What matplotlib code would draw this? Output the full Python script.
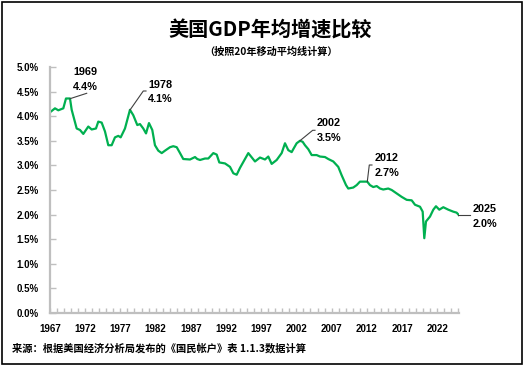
import matplotlib
matplotlib.use("Agg")
import matplotlib.pyplot as plt
from matplotlib.patches import Rectangle

# ---- data ----
years = [1967.00, 1967.71, 1968.18, 1968.89, 1969.27, 1969.84, 1970.08, 1970.79,
         1971.26, 1971.73, 1972.44, 1972.92, 1973.53, 1973.86, 1974.34, 1974.81,
         1975.28, 1975.76, 1976.23, 1976.70, 1977.04, 1977.65, 1978.36, 1978.83,
         1979.40, 1979.78, 1980.25, 1980.64, 1981.06, 1981.53, 1981.91, 1982.38,
         1982.87, 1983.34, 1984.05, 1984.51, 1985.00, 1985.47, 1985.93, 1986.89,
         1987.60, 1987.92, 1988.31, 1989.02, 1989.49, 1990.20, 1990.68, 1991.05,
         1991.86, 1992.57, 1993.04, 1993.52, 1993.99, 1995.17, 1996.12, 1996.83,
         1997.54, 1998.01, 1998.49, 1999.20, 1999.91, 2000.38, 2000.85, 2001.33,
         2001.56, 2002.04, 2002.51, 2002.89, 2003.22, 2003.69, 2004.17, 2004.88,
         2005.35, 2006.06, 2006.53, 2007.24, 2007.95, 2008.43, 2009.05, 2009.37,
         2010.08, 2010.57, 2011.03, 2011.50, 2012.07, 2012.45, 2012.92, 2013.41,
         2013.88, 2014.34, 2015.05, 2015.54, 2016.25, 2016.96, 2017.67, 2018.38,
         2018.85, 2019.56, 2019.94, 2020.17, 2020.41, 2020.98, 2021.45, 2021.83,
         2022.30, 2022.87, 2023.58, 2024.28, 2024.76, 2025.09]
growth = [4.08, 4.16, 4.12, 4.16, 4.36, 4.36, 4.13, 3.75,
          3.72, 3.64, 3.79, 3.73, 3.75, 3.89, 3.87, 3.69,
          3.41, 3.41, 3.57, 3.60, 3.57, 3.75, 4.13, 4.02,
          3.82, 3.84, 3.75, 3.65, 3.86, 3.72, 3.41, 3.30,
          3.25, 3.30, 3.37, 3.39, 3.37, 3.25, 3.13, 3.12,
          3.17, 3.13, 3.11, 3.14, 3.14, 3.25, 3.22, 3.06,
          3.04, 2.97, 2.84, 2.81, 2.95, 3.25, 3.08, 3.16,
          3.12, 3.18, 3.03, 3.11, 3.25, 3.45, 3.31, 3.27,
          3.33, 3.45, 3.50, 3.48, 3.41, 3.33, 3.21, 3.21,
          3.18, 3.17, 3.13, 3.08, 2.97, 2.80, 2.60, 2.53,
          2.55, 2.60, 2.67, 2.67, 2.67, 2.60, 2.56, 2.58,
          2.53, 2.51, 2.53, 2.50, 2.43, 2.36, 2.30, 2.29,
          2.20, 2.16, 2.06, 1.52, 1.86, 1.96, 2.10, 2.17,
          2.10, 2.15, 2.10, 2.06, 2.04, 1.99]

label_years = [1967, 1972, 1977, 1982, 1987, 1992, 1997, 2002, 2007, 2012, 2017, 2022]
y_ticks = [0.0, 0.5, 1.0, 1.5, 2.0, 2.5, 3.0, 3.5, 4.0, 4.5, 5.0]

# annotated peaks
ann_years = ["1969", "1978", "2002", "2012", "2025"]
ann_values = ["4.4%", "4.1%", "3.5%", "2.7%", "2.0%"]

title = "美国GDP年均增速比较"
subtitle = "（按照20年移动平均线计算）"
source = "来源：根据美国经济分析局发布的《国民帐户》表 1.1.3数据计算"

# ---- figure ----
W, H = 528, 367
fig = plt.figure(figsize=(W / 100, H / 100), dpi=100)
fig.patch.set_facecolor("white")

ax_l, ax_r, ax_t, ax_b = 50, 459, 67, 313
ax = fig.add_axes([ax_l / W, (H - ax_b) / H, (ax_r - ax_l) / W, (ax_b - ax_t) / H])
ax.set_facecolor("none")

ax.plot(years, growth, color="#00B050", lw=1.6, solid_joinstyle="round")

ax.set_xlim(1967, 2025.1)
ax.set_ylim(0, 5.0)

gray = "#BFBFBF"
for s in ["top", "right"]:
    ax.spines[s].set_visible(False)
for s in ["left", "bottom"]:
    ax.spines[s].set_color(gray)
    ax.spines[s].set_linewidth(1.6)

num_font = dict(family=["Liberation Sans", "DejaVu Sans"], weight="bold")

ax.set_yticks(y_ticks)
ax.set_yticklabels([f"{v:.1f}%" for v in y_ticks], fontsize=7, **num_font)
ax.tick_params(axis="y", direction="in", length=4, width=1, color=gray, pad=8)

ax.set_xticks(list(range(1967, 2026)))
ax.set_xticklabels([str(y) if y in label_years else "" for y in range(1967, 2026)],
                   fontsize=7, **num_font)
ax.tick_params(axis="x", direction="in", length=3.5, width=1, color=gray, pad=8)

# ---- annotations ----
def px2d(x, y):
    return 1967 + (x - 50) / 7.04, (313 - y) / 49.2

leaders = [
    [(70, 98.7), (86.7, 93.3)],
    [(130, 110), (143.3, 91), (146, 91)],
    [(300, 140.7), (312.7, 130.3), (315, 130.3)],
    [(367.3, 181.7), (369.3, 165), (372, 165)],
    [(458, 215), (470, 215)],
]
text_pos = [(73, 72, 87), (148, 85, 99.3), (317, 122.7, 138.3),
            (375, 158.3, 172.7), (473, 209.3, 224)]

for yl, vl, lead, tp in zip(ann_years, ann_values, leaders, text_pos):
    pts = [px2d(*p) for p in lead]
    ax.plot([p[0] for p in pts], [p[1] for p in pts], color="#404040", lw=0.8,
            clip_on=False)
    x0, y1 = px2d(tp[0], tp[1])
    _, y2 = px2d(tp[0], tp[2])
    ax.text(x0, y1, yl, ha="left", va="center", fontsize=7.8, clip_on=False, **num_font)
    ax.text(x0, y2, vl, ha="left", va="center", fontsize=7.8, clip_on=False, **num_font)

cjk = ["Noto Sans CJK SC", "DejaVu Sans"]
fig.text(270 / W, 1 - 30 / H, title, ha="center", va="center", fontsize=14.5,
         family=cjk, weight="bold")
fig.text(271 / W, 1 - 52 / H, subtitle, ha="center", va="center", fontsize=7.3,
         family=cjk, weight="bold")
fig.text(12 / W, 1 - 348 / H, source, ha="left", va="center", fontsize=7.4,
         family=cjk, weight="bold")

# outer frame
fig.patches.append(Rectangle((1.5 / W, 3.5 / H), 520.5 / W, 362 / H,
                             transform=fig.transFigure, fill=False,
                             edgecolor="black", lw=1.2))

fig.savefig("out.png", dpi=100)
